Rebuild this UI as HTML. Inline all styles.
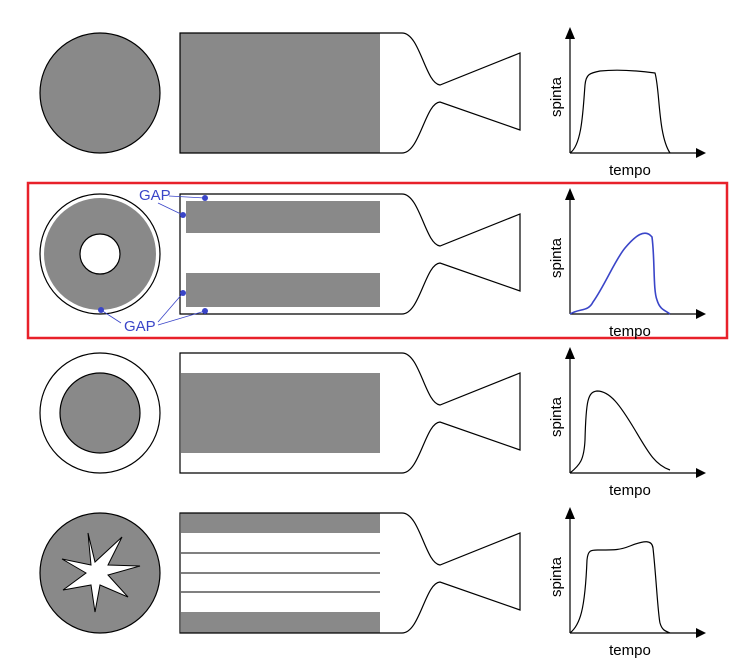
<!DOCTYPE html>
<html><head><meta charset="utf-8"><style>body{margin:0;background:#fff}svg{display:block}text{font-family:"Liberation Sans",sans-serif}</style></head>
<body>
<svg width="750" height="670" viewBox="0 0 750 670" xmlns="http://www.w3.org/2000/svg">
<defs>
<path id="cas" d="M180,0 H402 C420,0 425,50 440,52 L520,20 V97 L440,69 C425,70 420,120 402,120 H180 Z" fill="none" stroke="#000" stroke-width="1.2"/>
<g id="ax">
<line x1="0" y1="0" x2="0" y2="-118" stroke="#000" stroke-width="1.2"/>
<polygon points="-5,-114 5,-114 0,-126" fill="#000"/>
<line x1="0" y1="0" x2="128" y2="0" stroke="#000" stroke-width="1.2"/>
<polygon points="126,-5 126,5 136,0" fill="#000"/>
<text x="60" y="22" font-size="15" text-anchor="middle">tempo</text>
<text transform="translate(-9,-56) rotate(-90)" font-size="15" text-anchor="middle">spinta</text>
</g>
</defs>

<!-- Row 1 -->
<circle cx="100" cy="93" r="60" fill="#898989" stroke="#000" stroke-width="1.2"/>
<rect x="180" y="33" width="200" height="120" fill="#898989"/>
<use href="#cas" transform="translate(0,33)"/>
<use href="#ax" transform="translate(570,153)"/>
<path d="M570,153 C582,145 583,110 585,85 C586,74 590,73 600,71 C620,69 640,71 655,73 C660,90 658,135 670,153" fill="none" stroke="#000" stroke-width="1.2"/>

<!-- Row 2 -->
<rect x="28" y="183" width="699" height="155" fill="none" stroke="#e8212a" stroke-width="2.5"/>
<circle cx="100" cy="254" r="60" fill="#fff" stroke="#000" stroke-width="1.2"/>
<circle cx="100" cy="254" r="56" fill="#898989"/>
<circle cx="100" cy="254" r="20" fill="#fff" stroke="#000" stroke-width="1.2"/>
<rect x="186" y="201" width="194" height="32" fill="#898989"/>
<rect x="186" y="273" width="194" height="34" fill="#898989"/>
<use href="#cas" transform="translate(0,194)"/>
<use href="#ax" transform="translate(570,314)"/>
<path d="M570,314 C580,308 588,312 593,302 C605,285 615,260 625,248 C635,236 645,228 652,237 C655,260 653,290 657,300 C660,310 665,310 670,314" fill="none" stroke="#3a45c8" stroke-width="1.6"/>
<g fill="#3a45c8" stroke="#3a45c8">
<text x="139" y="200" font-size="15" stroke="none">GAP</text>
<text x="124" y="331" font-size="15" stroke="none">GAP</text>
<line x1="169" y1="196" x2="205" y2="198" stroke-width="0.8"/>
<line x1="158" y1="203" x2="183" y2="215" stroke-width="0.8"/>
<line x1="158" y1="322" x2="183" y2="293" stroke-width="0.8"/>
<line x1="158" y1="325" x2="205" y2="311" stroke-width="0.8"/>
<line x1="121" y1="323" x2="101" y2="310" stroke-width="0.8"/>
<circle cx="205" cy="198" r="3" stroke="none"/>
<circle cx="183" cy="215" r="3" stroke="none"/>
<circle cx="183" cy="293" r="3" stroke="none"/>
<circle cx="205" cy="311" r="3" stroke="none"/>
<circle cx="101" cy="310" r="3" stroke="none"/>
</g>

<!-- Row 3 -->
<circle cx="100" cy="413" r="60" fill="#fff" stroke="#000" stroke-width="1.2"/>
<circle cx="100" cy="413" r="40" fill="#898989" stroke="#000" stroke-width="1.2"/>
<rect x="181" y="373" width="199" height="80" fill="#898989"/>
<use href="#cas" transform="translate(0,353)"/>
<use href="#ax" transform="translate(570,473)"/>
<path d="M570,473 C580,465 584,460 585,440 C586,400 588,392 597,391 C610,391 620,405 635,430 C648,452 655,465 670,470" fill="none" stroke="#000" stroke-width="1.2"/>

<!-- Row 4 -->
<circle cx="100" cy="573" r="60" fill="#898989" stroke="#000" stroke-width="1.2"/>
<polygon fill="#fff" stroke="#000" stroke-width="1" points="88,533 95,562 122,537 108,565 140,566 108,575 128,597 100,585 95,612 91,585 63,590 86,573 62,559 91,565"/>
<rect x="181" y="513" width="199" height="20" fill="#898989"/>
<rect x="181" y="612" width="199" height="21" fill="#898989"/>
<g stroke="#000" stroke-width="1"><line x1="181" y1="553" x2="380" y2="553"/><line x1="181" y1="573" x2="380" y2="573"/><line x1="181" y1="592" x2="380" y2="592"/></g>
<use href="#cas" transform="translate(0,513)"/>
<use href="#ax" transform="translate(570,633)"/>
<path d="M570,633 C580,625 585,610 587,560 C588,549 592,550 600,550 C615,550 620,550 630,546 C645,540 652,540 653,548 C656,575 658,615 660,623 C662,630 665,631 670,633" fill="none" stroke="#000" stroke-width="1.2"/>
</svg>
</body></html>
